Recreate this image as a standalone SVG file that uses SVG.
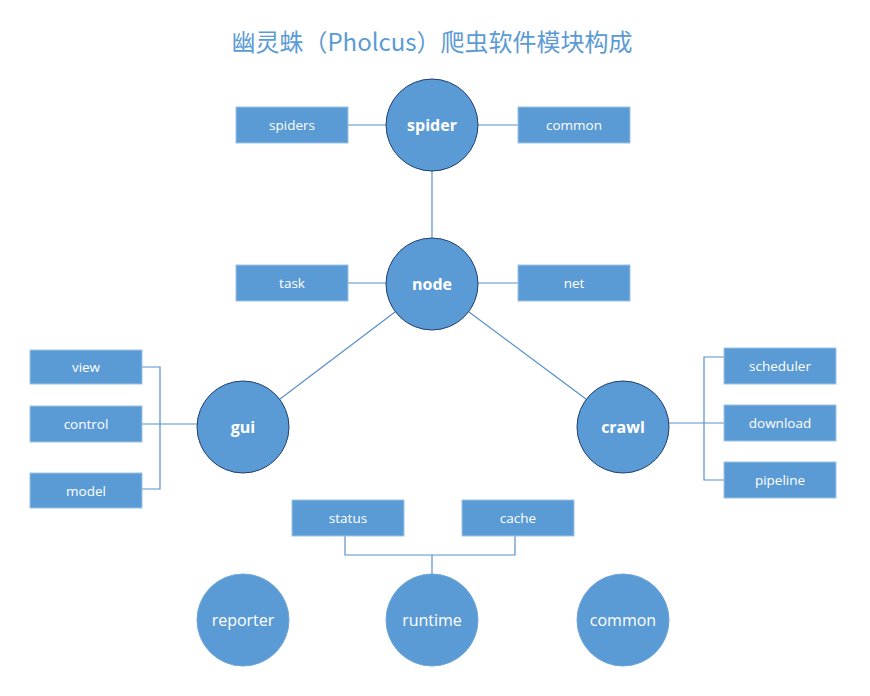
<svg xmlns="http://www.w3.org/2000/svg" width="870" height="696" viewBox="0 0 870 696">
<style>
.bg{fill:#ffffff}
.title{font-family:"Noto Sans CJK SC","Noto Sans",sans-serif;font-size:24px;fill:#5b9bd5;text-anchor:middle}
.box{fill:#5b9bd5;stroke:#9dc3e6;stroke-width:1}
.hub{fill:#5b9bd5;stroke:#1f3f6e;stroke-width:1}
.hub2{fill:#5b9bd5;stroke:#6fa5da;stroke-width:1}
.bl{font-family:"Open Sans","Noto Sans",sans-serif;font-size:13.5px;fill:#ffffff;text-anchor:middle;dominant-baseline:central}
.hl{font-family:"Open Sans","Noto Sans",sans-serif;font-size:16px;font-weight:bold;fill:#ffffff;text-anchor:middle;dominant-baseline:central}
.rl{font-family:"Open Sans","Noto Sans",sans-serif;font-size:16px;fill:#ffffff;text-anchor:middle;dominant-baseline:central}
.ln{fill:none;stroke:#5b8fc9;stroke-width:1.2}
</style>
<rect class="bg" x="0" y="0" width="870" height="696"/>
<text class="title" x="432" y="51">幽灵蛛（Pholcus）爬虫软件模块构成</text>

<g id="connectors">
<line class="ln" x1="348" y1="125" x2="386" y2="125"/>
<line class="ln" x1="478" y1="125" x2="518" y2="125"/>
<line class="ln" x1="432" y1="171" x2="432" y2="238"/>
<line class="ln" x1="348" y1="283" x2="386" y2="283"/>
<line class="ln" x1="478" y1="283" x2="518" y2="283"/>
<line class="ln" x1="279.7" y1="399.3" x2="395.3" y2="311.7"/>
<line class="ln" x1="586.3" y1="399.3" x2="468.7" y2="311.7"/>
<polyline class="ln" points="142,367 160,367 160,489 142,489"/>
<line class="ln" x1="142" y1="424" x2="198" y2="424"/>
<polyline class="ln" points="724,357 704,357 704,480 724,480"/>
<line class="ln" x1="669" y1="423" x2="724" y2="423"/>
<polyline class="ln" points="345,536 345,555 515,555 515,536"/>
<line class="ln" x1="432" y1="555" x2="432" y2="574"/>
</g>

<g id="spider"><circle class="hub" cx="432" cy="125" r="46"/><text class="hl" x="432" y="125">spider</text></g>
<g id="spiders"><rect class="box" x="236" y="107" width="112" height="36"/><text class="bl" x="292" y="125">spiders</text></g>
<g id="common-top"><rect class="box" x="518" y="107" width="112" height="36"/><text class="bl" x="574" y="125">common</text></g>

<g id="node"><circle class="hub" cx="432" cy="284" r="46"/><text class="hl" x="432" y="284">node</text></g>
<g id="task"><rect class="box" x="236" y="265" width="112" height="36"/><text class="bl" x="292" y="283">task</text></g>
<g id="net"><rect class="box" x="518" y="265" width="112" height="36"/><text class="bl" x="574" y="283">net</text></g>

<g id="gui"><circle class="hub" cx="243" cy="427" r="46"/><text class="hl" x="243" y="427">gui</text></g>
<g id="view"><rect class="box" x="30" y="350" width="112" height="34"/><text class="bl" x="86" y="367">view</text></g>
<g id="control"><rect class="box" x="30" y="406" width="112" height="36"/><text class="bl" x="86" y="424">control</text></g>
<g id="model"><rect class="box" x="30" y="473" width="112" height="35"/><text class="bl" x="86" y="491">model</text></g>

<g id="crawl"><circle class="hub" cx="623" cy="427" r="46"/><text class="hl" x="623" y="427">crawl</text></g>
<g id="scheduler"><rect class="box" x="724" y="348" width="112" height="36"/><text class="bl" x="780" y="366">scheduler</text></g>
<g id="download"><rect class="box" x="724" y="405" width="112" height="36"/><text class="bl" x="780" y="423">download</text></g>
<g id="pipeline"><rect class="box" x="724" y="462" width="112" height="36"/><text class="bl" x="780" y="480">pipeline</text></g>

<g id="status"><rect class="box" x="292" y="500" width="112" height="36"/><text class="bl" x="348" y="518">status</text></g>
<g id="cache"><rect class="box" x="462" y="500" width="112" height="36"/><text class="bl" x="518" y="518">cache</text></g>

<g id="reporter"><circle class="hub2" cx="243" cy="620" r="46"/><text class="rl" x="243" y="620">reporter</text></g>
<g id="runtime"><circle class="hub2" cx="432" cy="620" r="46"/><text class="rl" x="432" y="620">runtime</text></g>
<g id="common-bottom"><circle class="hub2" cx="623" cy="620" r="46"/><text class="rl" x="623" y="620">common</text></g>
</svg>
